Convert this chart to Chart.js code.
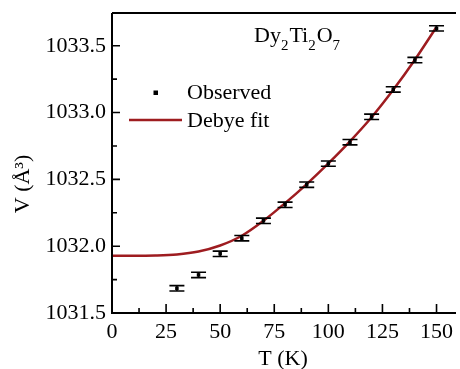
<!DOCTYPE html>
<html>
<head>
<script src="https://cdn.jsdelivr.net/npm/chart.js@4.4.0/dist/chart.umd.min.js"></script>
<style>
html, body { margin: 0; padding: 0; background: #fff; overflow: hidden; }
.chartBox { width: 460px; height: 369px; }
</style>
</head>
<body>
<div class="chartBox">
  <canvas id="myChart" width="460" height="369"></canvas>
</div>
<script>
// observed lattice volume with error bars
const temps = [30, 40, 50, 60, 70, 80, 90, 100, 110, 120, 130, 140, 150];
const observed = [1031.685, 1031.785, 1031.943, 1032.06, 1032.19, 1032.31, 1032.46, 1032.618, 1032.778, 1032.968, 1033.173, 1033.393, 1033.63];
const errors = [0.02, 0.02, 0.02, 0.02, 0.02, 0.02, 0.02, 0.02, 0.02, 0.02, 0.02, 0.02, 0.02];

// Debye fit curve
const fitTemps = [0, 10, 20, 30, 40, 50, 60, 70, 80, 90, 100, 110, 120, 130, 140, 150];
const fitValues = [1031.928, 1031.928, 1031.930, 1031.938, 1031.960, 1032.005, 1032.078, 1032.190, 1032.322, 1032.465, 1032.620, 1032.785, 1032.965, 1033.170, 1033.395, 1033.640];

const xTicks = [0, 25, 50, 75, 100, 125, 150];
const yTicks = [1031.5, 1032.0, 1032.5, 1033.0, 1033.5];

const FONT = 'Liberation Serif';
const fitColor = '#9e1c20';

const frame = {
  id: 'frame',
  afterDatasetsDraw(chart) {
    const ctx = chart.ctx;
    const xs = chart.scales.x, ys = chart.scales.y;
    ctx.save();
    ctx.strokeStyle = '#000';
    ctx.lineWidth = 1.6;
    temps.forEach((t, i) => {
      const px = xs.getPixelForValue(t);
      const top = ys.getPixelForValue(observed[i] + errors[i]);
      const bot = ys.getPixelForValue(observed[i] - errors[i]);
      ctx.beginPath();
      ctx.moveTo(px, top); ctx.lineTo(px, bot);
      ctx.moveTo(px - 7.5, top); ctx.lineTo(px + 7.5, top);
      ctx.moveTo(px - 7.5, bot); ctx.lineTo(px + 7.5, bot);
      ctx.stroke();
    });
    ctx.restore();
  },
  afterDraw(chart) {
    const ctx = chart.ctx;
    const a = chart.chartArea;
    const xs = chart.scales.x, ys = chart.scales.y;
    ctx.save();
    ctx.strokeStyle = '#000';
    ctx.lineWidth = 2;
    // axes + top border
    ctx.beginPath();
    ctx.moveTo(a.left, a.top); ctx.lineTo(a.right, a.top);
    ctx.moveTo(a.left, a.top); ctx.lineTo(a.left, a.bottom);
    ctx.lineTo(a.right, a.bottom);
    ctx.stroke();
    // inward ticks
    ctx.lineWidth = 1.6;
    ctx.beginPath();
    xTicks.forEach((t) => {
      const px = xs.getPixelForValue(t);
      ctx.moveTo(px, a.bottom); ctx.lineTo(px, a.bottom - 9);
      const m = xs.getPixelForValue(t + 12.5);
      if (m < a.right) { ctx.moveTo(m, a.bottom); ctx.lineTo(m, a.bottom - 5); }
    });
    yTicks.forEach((t) => {
      const py = ys.getPixelForValue(t);
      ctx.moveTo(a.left, py); ctx.lineTo(a.left + 8, py);
      const m = ys.getPixelForValue(t + 0.25);
      if (m > a.top) { ctx.moveTo(a.left, m); ctx.lineTo(a.left + 5, m); }
    });
    ctx.stroke();

    ctx.fillStyle = '#000';
    ctx.font = '22px ' + FONT;
    // tick labels
    ctx.textBaseline = 'middle';
    ctx.textAlign = 'center';
    xTicks.forEach(t => ctx.fillText(String(t), xs.getPixelForValue(t), a.bottom + 19));
    ctx.textAlign = 'right';
    yTicks.forEach(t => ctx.fillText(t.toFixed(1), a.left - 6, ys.getPixelForValue(t)));

    // axis titles
    ctx.textAlign = 'center';
    ctx.textBaseline = 'alphabetic';
    ctx.fillText('T (K)', (a.left + a.right) / 2 - 1, 365);
    ctx.save();
    ctx.translate(29, 184);
    ctx.rotate(-Math.PI / 2);
    ctx.fillText('V (\u00C5\u00B3)', 0, 0);
    ctx.restore();

    // compound label with subscripts
    ctx.textAlign = 'left';
    const parts = [['Dy', 0], ['2', 1], ['Ti', 0], ['2', 1], ['O', 0], ['7', 1]];
    let x = 254;
    parts.forEach(([s, sub]) => {
      ctx.font = (sub ? '15px ' : '22px ') + FONT;
      ctx.fillText(s, x, sub ? 50 : 42);
      x += ctx.measureText(s).width + (sub ? 1 : 0);
    });

    // legend
    ctx.font = '22px ' + FONT;
    ctx.textBaseline = 'middle';
    ctx.fillRect(153.5, 90.5, 4.5, 4.5);
    ctx.fillText('Observed', 187, 93);
    ctx.strokeStyle = fitColor;
    ctx.lineWidth = 2.5;
    ctx.beginPath();
    ctx.moveTo(129, 120); ctx.lineTo(182, 120);
    ctx.stroke();
    ctx.fillText('Debye fit', 187, 121);
    ctx.restore();
  }
};

new Chart(document.getElementById('myChart'), {
  type: 'scatter',
  data: {
    datasets: [{
      label: 'Observed',
      data: temps.map((t, i) => ({ x: t, y: observed[i] })),
      pointStyle: 'rect',
      pointRadius: 2.5,
      backgroundColor: '#000',
      borderColor: '#000',
      borderWidth: 0
    }, {
      label: 'Debye fit',
      data: fitTemps.map((t, i) => ({ x: t, y: fitValues[i] })),
      showLine: true,
      pointRadius: 0,
      borderColor: fitColor,
      borderWidth: 2.5,
      cubicInterpolationMode: 'monotone'
    }]
  },
  options: {
    responsive: false,
    animation: false,
    devicePixelRatio: 1,
    layout: { padding: { top: 13, right: 0, left: 0, bottom: 0 } },
    plugins: { legend: { display: false }, tooltip: { enabled: false } },
    scales: {
      x: {
        type: 'linear',
        min: 0, max: 159,
        grid: { display: false, drawTicks: false },
        border: { display: false },
        afterBuildTicks: s => { s.ticks = xTicks.map(v => ({ value: v })); },
        afterFit: s => { s.height = 56; },
        ticks: { display: false }
      },
      y: {
        type: 'linear',
        min: 1031.5, max: 1033.745,
        grid: { display: false, drawTicks: false },
        border: { display: false },
        afterBuildTicks: s => { s.ticks = yTicks.map(v => ({ value: v })); },
        afterFit: s => { s.width = 112; },
        ticks: { display: false }
      }
    }
  },
  plugins: [frame]
});
</script>
</body>
</html>
